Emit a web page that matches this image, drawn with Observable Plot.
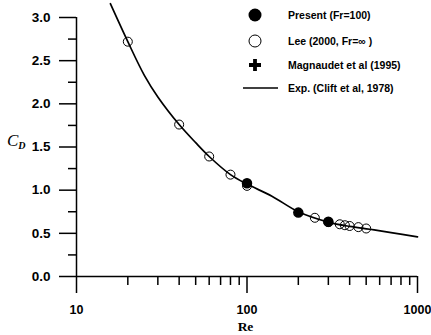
<!DOCTYPE html>
<html>
<head>
<meta charset="utf-8">
<script src="https://cdn.jsdelivr.net/npm/d3@7"></script>
<script src="https://cdn.jsdelivr.net/npm/@observablehq/plot@0.6"></script>
<style>
  html, body { margin: 0; padding: 0; background: #fff; }
  #chart { width: 431px; height: 335px; }
</style>
</head>
<body>
<div id="chart"></div>
<script>
const curveRe = [15.8, 20, 25, 30, 40, 50, 60, 80, 100, 140, 200, 300, 400, 525, 700, 1000];
const curveCd = [3.16, 2.72, 2.33, 2.08, 1.76, 1.55, 1.39, 1.18, 1.07, 0.93, 0.75, 0.63, 0.58, 0.547, 0.508, 0.459];
// Lee (2000, Fr = inf), open circles
const leeRe = [20, 40, 60, 80, 100, 250, 300, 350, 375, 400, 450, 500];
const leeCd = [2.72, 1.76, 1.39, 1.18, 1.05, 0.68, 0.63, 0.605, 0.594, 0.585, 0.572, 0.556];
// Present (Fr = 100), filled circles
const presentRe = [100, 200, 300];
const presentCd = [1.08, 0.74, 0.635];
// Tick values
const yMajor = [0, 0.5, 1.0, 1.5, 2.0, 2.5, 3.0];
const yMinor = [0.25, 0.75, 1.25, 1.75, 2.25, 2.75];
const xMajor = [10, 100, 1000];
const xMinor = [20, 30, 40, 50, 60, 70, 80, 90, 200, 300, 400, 500, 600, 700, 800, 900];
// Legend labels
const legendLabels = ["Present (Fr=100)", "Lee (2000, Fr=\u221E )", "Magnaudet et al (1995)", "Exp. (Clift et al, 1978)"];

const curve = curveRe.map((r, i) => ({re: r, cd: curveCd[i]}));
const lee = leeRe.map((r, i) => ({re: r, cd: leeCd[i]}));
const present = presentRe.map((r, i) => ({re: r, cd: presentCd[i]}));

const font = "'Liberation Sans', Arial, sans-serif";

const plot = Plot.plot({
  width: 431,
  height: 335,
  marginLeft: 76,
  marginRight: 14,
  marginTop: 17,
  marginBottom: 59,
  style: {fontFamily: font, fontSize: "13px", fontWeight: "bold", color: "#000", background: "#fff", overflow: "visible"},
  x: {type: "log", domain: [10, 1000]},
  y: {domain: [0, 3]},
  marks: [
    Plot.axisY(yMajor, {tickSize: 17, tickPadding: 9, tickFormat: d3.format(".1f"), label: null, strokeWidth: 1.5, fontSize: 13.5}),
    Plot.axisY(yMinor, {tickSize: 8, tickFormat: () => "", label: null, strokeWidth: 1.5}),
    Plot.axisX(xMajor, {tickSize: 17, tickPadding: 12, tickFormat: d3.format("d"), label: null, strokeWidth: 1.5, fontSize: 12.5}),
    Plot.axisX(xMinor, {tickSize: 9, tickFormat: () => "", label: null, strokeWidth: 1.5}),
    Plot.ruleX([10], {y1: 0, y2: 3, strokeWidth: 1.5}),
    Plot.ruleY([0], {x1: 10, x2: 1000, strokeWidth: 1.5}),
    Plot.line(curve, {x: "re", y: "cd", curve: "catmull-rom", stroke: "#000", strokeWidth: 1.7}),
    Plot.dot(lee, {x: "re", y: "cd", r: 4.5, stroke: "#000", strokeWidth: 1, fill: "none"}),
    Plot.dot(present, {x: "re", y: "cd", r: 4.5, fill: "#000", stroke: "#000"})
  ]
});

document.getElementById("chart").appendChild(plot);

const svg = d3.select(plot);

// Axis titles
svg.append("text")
  .attr("x", 245.5).attr("y", 331)
  .attr("text-anchor", "middle")
  .attr("fill", "#000")
  .style("font-family", "'Liberation Serif', 'Times New Roman', serif")
  .style("font-size", "13.5px").style("font-weight", "bold")
  .text("Re");

const cd = svg.append("text")
  .attr("x", 7).attr("y", 146)
  .attr("text-anchor", "start")
  .attr("fill", "#000")
  .style("text-anchor", "start")
  .style("font-family", "'Liberation Serif', 'Times New Roman', serif")
  .style("font-style", "italic").style("font-weight", "normal");
cd.append("tspan").style("font-size", "17px").text("C");
cd.append("tspan").attr("dy", 3).style("font-size", "10px").style("font-weight", "bold").text("D");

// Legend
const lg = svg.append("g").attr("text-anchor", "start");
const rowsY = [15, 41, 65, 88];
const mx = 255;
lg.append("circle").attr("cx", mx).attr("cy", rowsY[0]).attr("r", 6.5).attr("fill", "#000");
lg.append("circle").attr("cx", mx).attr("cy", rowsY[1]).attr("r", 6).attr("fill", "none").attr("stroke", "#000").attr("stroke-width", 1);
lg.append("path").attr("d", `M${mx-6},${rowsY[2]}H${mx+6}M${mx},${rowsY[2]-6}V${rowsY[2]+6}`).attr("stroke", "#000").attr("stroke-width", 3.8);
lg.append("line").attr("x1", 243).attr("x2", 278).attr("y1", rowsY[3]).attr("y2", rowsY[3]).attr("stroke", "#000").attr("stroke-width", 1.5);
legendLabels.forEach((t, i) => {
  lg.append("text").attr("x", 288).attr("y", rowsY[i] + 3.5)
    .attr("text-anchor", "start").attr("fill", "#000").style("text-anchor", "start")
    .style("font-family", font).style("font-size", "10.5px").style("font-weight", "bold")
    .text(t);
});
</script>
</body>
</html>
